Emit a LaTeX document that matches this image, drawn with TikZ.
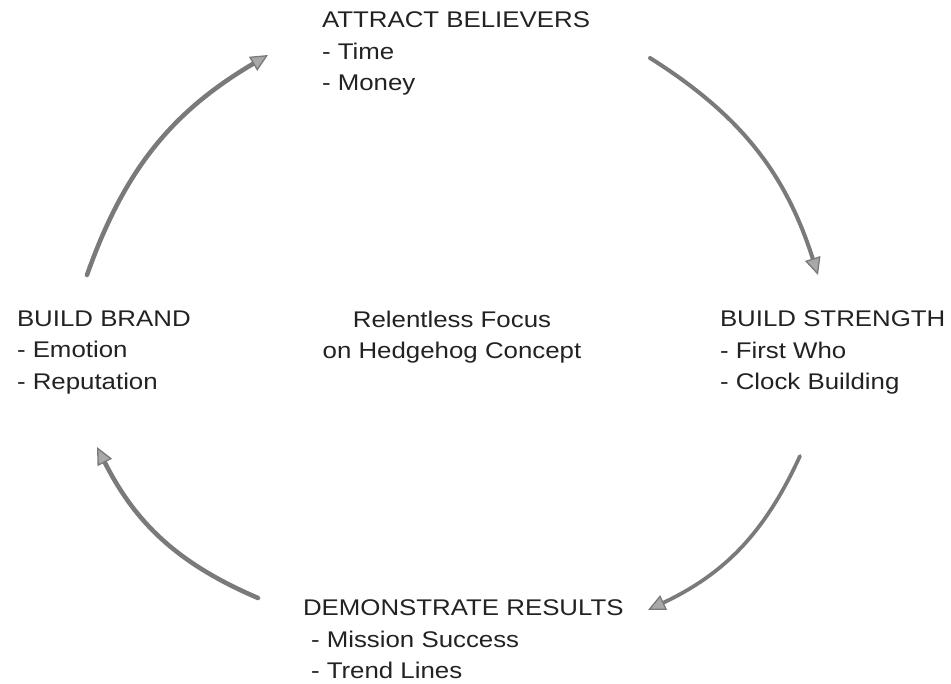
\documentclass[tikz,border=0pt]{standalone}
\usepackage{fontspec}
\setmainfont{Liberation Sans}[FakeStretch=1.14]
\usetikzlibrary{arrows.meta}
\definecolor{inkgray}{HTML}{222222}
\definecolor{arrowgray}{HTML}{7A7A7A}
\definecolor{tipfill}{HTML}{A8A8A8}
\begin{document}
\begin{tikzpicture}[x=0.75pt,y=0.75pt,
  label/.style={inner sep=0pt, outer sep=0pt, anchor=north west, align=left,
    text=inkgray, font=\fontsize{17}{23.5}\selectfont},
  centertext/.style={inner sep=0pt, outer sep=0pt, anchor=north, align=center,
    text=inkgray, font=\fontsize{17}{23}\selectfont},
  cyclearrow/.style={draw=arrowgray, line width=3.4pt, line cap=round,
    -{Triangle[length=13pt,width=12pt,line width=1pt,fill=tipfill]}},
]
\useasboundingbox (0,0) rectangle (951,684);

% Stage labels
\node[label] (attract) at (322,672) {ATTRACT BELIEVERS\\- Time\\- Money};
\node[label] (strength) at (720,373) {BUILD STRENGTH\\- First Who\\- Clock Building};
\node[label] (results) at (303,84) {DEMONSTRATE RESULTS\\\hspace{6pt}- Mission Success\\\hspace{6pt}- Trend Lines};
\node[label] (brand) at (17,373) {BUILD BRAND\\- Emotion\\- Reputation};
\node[centertext] (focus) at (452,373) {Relentless Focus\\on Hedgehog Concept};

% Arrow end points around the cycle
\coordinate (a1s) at (87,409);
\coordinate (a1e) at (268,629);
\coordinate (a2s) at (650,626);
\coordinate (a2e) at (818,409);
\coordinate (a3s) at (800,228);
\coordinate (a3e) at (648,74);
\coordinate (a4s) at (258,86);
\coordinate (a4e) at (97,237);

% Clockwise cycle arrows
\draw[cyclearrow] (a1s) to[bend left=20] (a1e);
\draw[cyclearrow, line width=3pt] (a2s) to[bend left=20] (a2e);
\draw[cyclearrow, line width=2.8pt] (a3s) to[bend left=20] (a3e);
\draw[cyclearrow] (a4s) to[bend left=20] (a4e);
\end{tikzpicture}
\end{document}
